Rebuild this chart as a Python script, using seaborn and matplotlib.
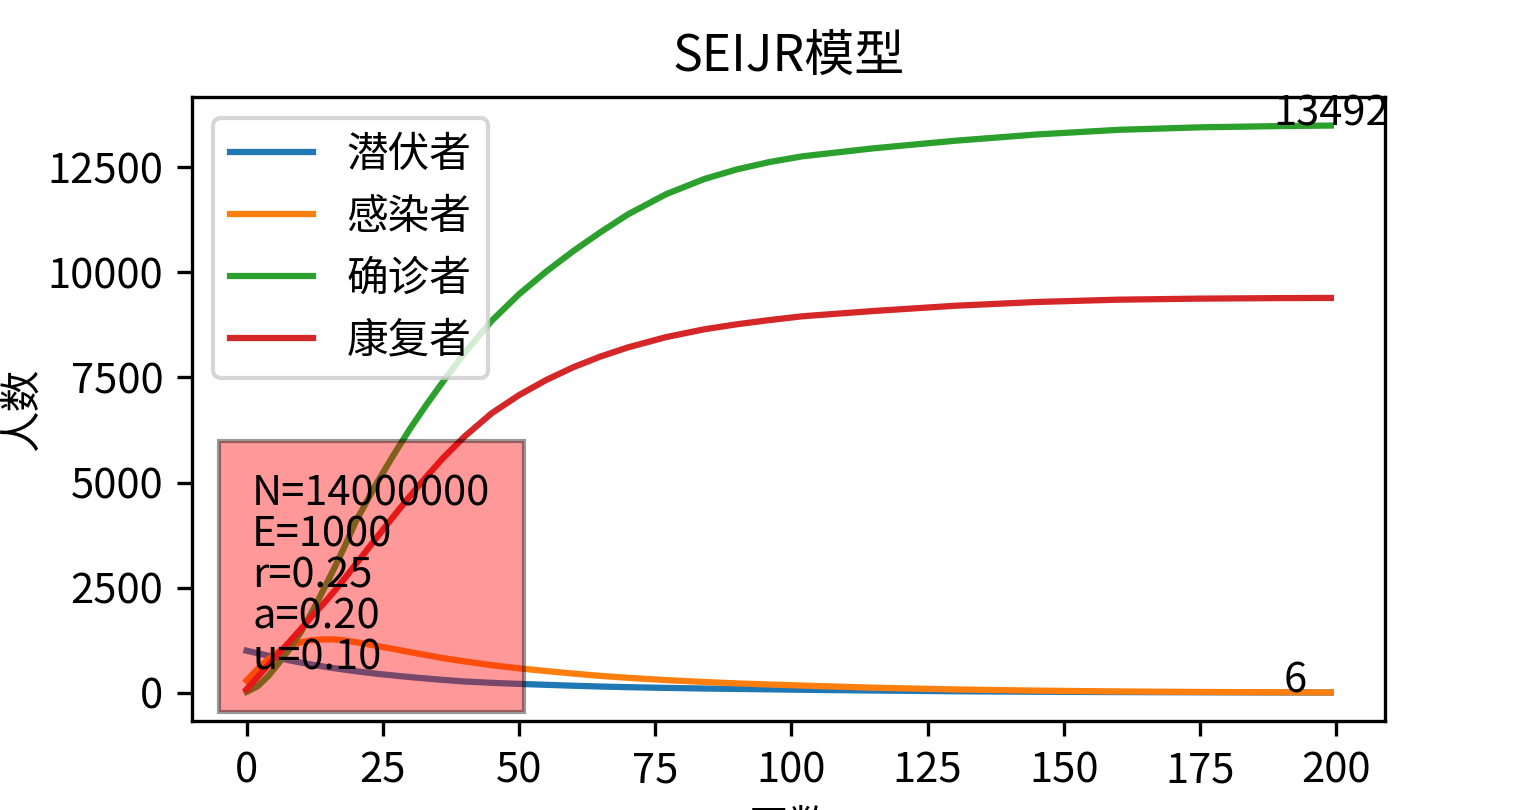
import numpy as np
import matplotlib
matplotlib.use("Agg")
import matplotlib.pyplot as plt
import seaborn as sns

plt.rcParams["font.family"] = ["Noto Sans CJK SC", "DejaVu Sans"]
plt.rcParams["axes.unicode_minus"] = False

# model parameters shown in the info box
N = 14000000
E0 = 1000
r = 0.25
a = 0.20
u = 0.10

days = [0, 2, 4, 6, 8, 10, 12, 14, 16, 18, 20, 22, 24, 27, 30, 33, 36, 40,
        45, 50, 55, 60, 65, 70, 77, 84, 90, 96, 102, 115, 130, 145, 160,
        175, 190, 199]
exposed = [1000, 940, 880, 822, 767, 715, 668, 625, 585, 548, 513, 480, 450,
           410, 372, 338, 305, 268, 235, 210, 188, 166, 147, 132, 115, 100,
           90, 80, 70, 52, 35, 23, 15, 10, 6, 4]
infected = [290, 560, 800, 990, 1120, 1200, 1250, 1270, 1268, 1245, 1205,
            1160, 1110, 1040, 965, 895, 825, 745, 655, 580, 515, 455, 400,
            355, 300, 255, 222, 195, 170, 120, 78, 50, 30, 18, 10, 6]
confirmed = [20, 150, 400, 720, 1060, 1450, 1920, 2420, 2940, 3480, 4060,
             4540, 5010, 5660, 6280, 6850, 7390, 8080, 8850, 9480, 10020,
             10510, 10960, 11380, 11860, 12220, 12450, 12625, 12760, 12950,
             13130, 13280, 13390, 13450, 13480, 13492]
recovered = [80, 370, 660, 950, 1230, 1520, 1820, 2100, 2400, 2720, 3050,
             3380, 3710, 4200, 4680, 5140, 5575, 6095, 6650, 7080, 7440,
             7745, 8000, 8215, 8460, 8645, 8765, 8865, 8955, 9080, 9205,
             9295, 9350, 9375, 9388, 9391]

labels = ["潜伏者", "感染者", "确诊者", "康复者"]

fig, ax = plt.subplots(figsize=(5.13, 2.7), dpi=300)
for series, lab in zip([exposed, infected, confirmed, recovered], labels):
    sns.lineplot(x=days, y=series, label=lab, ax=ax, sort=False)

ax.text(days[-1], confirmed[-1], "%d" % confirmed[-1], ha="center", va="baseline", fontsize=10)
ax.text(days[-1] - 6.5, infected[-1], "%d" % infected[-1], ha="center", va="baseline", fontsize=10)

info = "N=%d\nE=%d\nr=%.2f\na=%.2f\nu=%.2f" % (N, E0, r, a, u)
ax.text(1, 330, info, ha="left", va="bottom", fontsize=10, linespacing=1.0,
        bbox=dict(facecolor="red", alpha=0.4, pad=8))

ax.set_title("SEIJR模型", fontsize=12)
ax.set_xlabel("天数")
ax.set_ylabel("人数")
ax.yaxis.set_label_coords(-0.125, 0.5)
ax.legend(loc="upper left")

fig.savefig("out.png", dpi=300)
